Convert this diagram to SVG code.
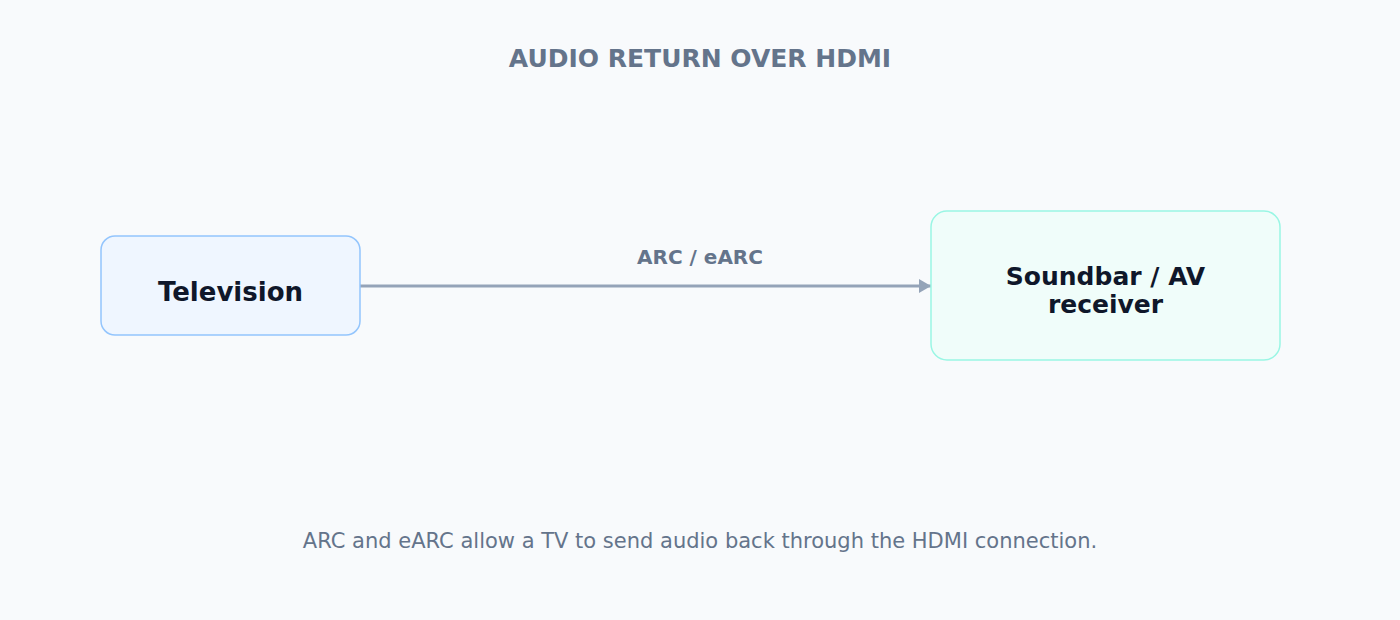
<svg xmlns="http://www.w3.org/2000/svg" width="1400" height="620" viewBox="0 0 1400 620">
<defs>
<style>
.t{font-family:"DejaVu Sans",Verdana,sans-serif;text-anchor:middle}
.title{font-size:25px;font-weight:bold;fill:#64748b}
.lbl{font-weight:bold;fill:#0f172a}
.el{font-size:20px;font-weight:bold;fill:#64748b}
.foot{font-size:21px;fill:#64748b}
</style>
<marker id="ah" viewBox="0 0 12 14" markerWidth="12" markerHeight="14" refX="12" refY="7" markerUnits="userSpaceOnUse" orient="auto">
<path d="M0,0 L12,7 L0,14 Z" fill="#94a3b8"/>
</marker>
</defs>
<rect width="1400" height="620" fill="#f8fafc"/>
<text class="t title" x="700" y="67">AUDIO RETURN OVER HDMI</text>
<g id="connectors">
<line x1="360" y1="286" x2="931" y2="286" stroke="#94a3b8" stroke-width="3" marker-end="url(#ah)"/>
<text class="t el" x="700" y="264">ARC / eARC</text>
</g>
<g id="television">
<rect x="101" y="236" width="259" height="99" rx="14" fill="#eff6ff" stroke="#93c5fd" stroke-width="1.5"/>
<text class="t lbl" x="230.5" y="301" style="font-size:26px">Television</text>
</g>
<g id="soundbar">
<rect x="931" y="211" width="349" height="149" rx="16" fill="#f0fdfa" stroke="#99f6e4" stroke-width="1.5"/>
<text class="t lbl" x="1105.5" y="285" style="font-size:25px">Soundbar / AV</text>
<text class="t lbl" x="1105.5" y="313" style="font-size:25px">receiver</text>
</g>
<text class="t foot" x="700" y="548">ARC and eARC allow a TV to send audio back through the HDMI connection.</text>
</svg>
